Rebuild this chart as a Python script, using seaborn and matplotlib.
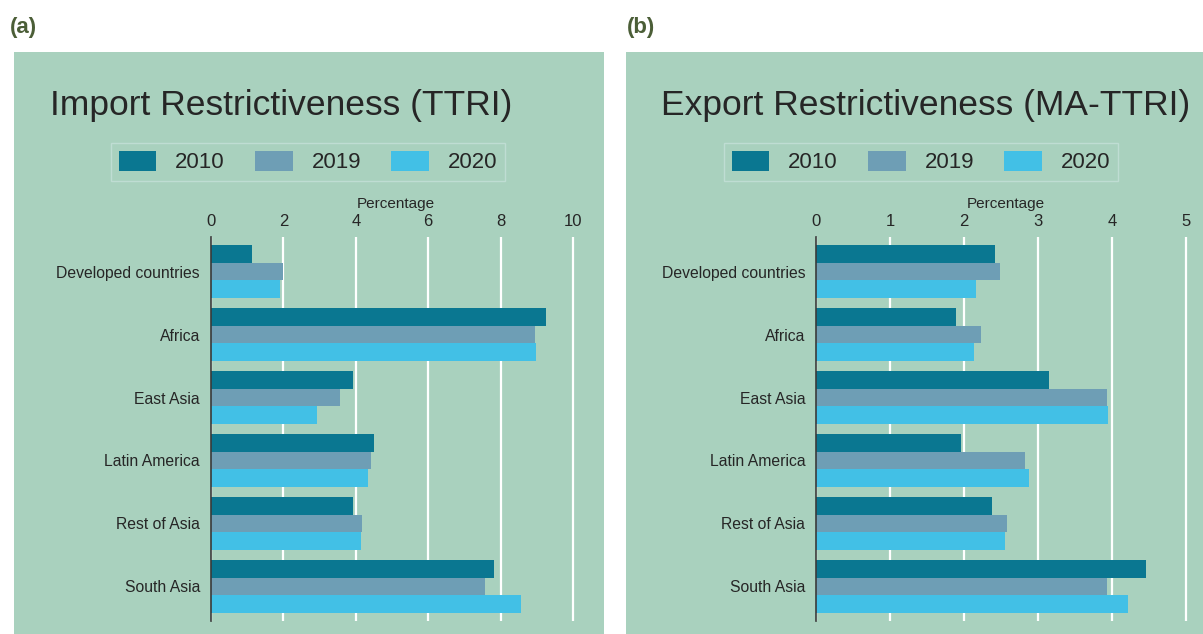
import matplotlib
matplotlib.use("Agg")
import matplotlib.pyplot as plt
import seaborn as sns
import pandas as pd
from matplotlib.patches import Rectangle

regions = ["Developed countries", "Africa", "East Asia", "Latin America", "Rest of Asia", "South Asia"]
years = ["2010", "2019", "2020"]
import_2010 = [1.14, 9.24, 3.91, 4.49, 3.93, 7.83]
import_2019 = [1.98, 8.94, 3.55, 4.41, 4.18, 7.56]
import_2020 = [1.90, 8.99, 2.94, 4.35, 4.13, 8.55]
export_2010 = [2.42, 1.89, 3.15, 1.96, 2.38, 4.46]
export_2019 = [2.49, 2.23, 3.93, 2.82, 2.58, 3.93]
export_2020 = [2.16, 2.13, 3.95, 2.88, 2.55, 4.21]
panel_titles = ["Import Restrictiveness (TTRI)", "Export Restrictiveness (MA-TTRI)"]
panel_letters = ["(a)", "(b)"]
xlabel = "Percentage"
import_ticks = [0, 2, 4, 6, 8, 10]
export_ticks = [0, 1, 2, 3, 4, 5]

colors = ["#0A7791", "#6E9EB5", "#42C0E6"]
bg = "#A9D1BE"
txt = "#262626"

def long_df(v10, v19, v20):
    rows = []
    for yr, vals in zip(years, [v10, v19, v20]):
        for r, v in zip(regions, vals):
            rows.append({"Region": r, "Year": yr, "Value": v})
    return pd.DataFrame(rows)

sns.set_theme(style="white")
plt.rcParams["font.family"] = ["Liberation Sans", "DejaVu Sans"]

W, H = 1203, 634
fig = plt.figure(figsize=(W / 100, H / 100), dpi=100, facecolor="white")

# green panels
fig.patches.append(Rectangle((14 / W, 0), (604 - 14) / W, (H - 52) / H,
                             transform=fig.transFigure, facecolor=bg, edgecolor="none", zorder=-10))
fig.patches.append(Rectangle((626 / W, 0), (W - 626) / W, (H - 52) / H,
                             transform=fig.transFigure, facecolor=bg, edgecolor="none", zorder=-10))

specs = [
    dict(df=long_df(import_2010, import_2019, import_2020), left=211, right=581, xmax=10.22,
         ticks=import_ticks, title_x=50, letter_x=10, leg_x=308),
    dict(df=long_df(export_2010, export_2019, export_2020), left=816.3, right=1195, xmax=5.12,
         ticks=export_ticks, title_x=661, letter_x=627, leg_x=921),
]

ax_top, ax_bot = 237, 621
for i, s in enumerate(specs):
    ax = fig.add_axes([s["left"] / W, (H - ax_bot) / H, (s["right"] - s["left"]) / W, (ax_bot - ax_top) / H])
    ax.set_facecolor("none")
    sns.barplot(data=s["df"], y="Region", x="Value", hue="Year", palette=colors, orient="h",
                width=0.84, linewidth=0, saturation=1, ax=ax, zorder=3)
    ax.set_xlim(0, s["xmax"])
    ax.set_ylim(5.55, -0.55)
    ax.set_xticks(s["ticks"])
    ax.xaxis.tick_top()
    ax.xaxis.set_label_position("top")
    ax.set_xlabel(xlabel, fontsize=11, color=txt, labelpad=4)
    ax.set_ylabel("")
    ax.grid(axis="x", color="white", linewidth=1.6, zorder=1)
    ax.set_axisbelow(True)
    ax.tick_params(axis="x", length=0, pad=6, labelsize=12, labelcolor=txt)
    ax.tick_params(axis="y", length=0, pad=8, labelsize=11.3, labelcolor=txt)
    for sp in ["top", "right", "bottom"]:
        ax.spines[sp].set_visible(False)
    ax.spines["left"].set_color("#3a3a3a")
    ax.spines["left"].set_linewidth(1.2)
    ax.spines["left"].set_zorder(5)

    handles, labels = ax.get_legend_handles_labels()
    if ax.get_legend() is not None:
        ax.get_legend().remove()
    leg = ax.legend(handles, labels, loc="center", ncol=3,
                    bbox_to_anchor=(s["leg_x"] / W, 1 - 162 / H), bbox_transform=fig.transFigure,
                    fontsize=16, frameon=True, fancybox=False, facecolor=bg,
                    edgecolor="#BFDDD3", framealpha=1,
                    handlelength=1.7, handleheight=1.05, handletextpad=0.85,
                    columnspacing=1.35, borderpad=0.35)
    for t in leg.get_texts():
        t.set_color(txt)
    leg.get_frame().set_linewidth(1.0)

    fig.text(s["title_x"] / W, 1 - 115 / H, panel_titles[i], fontsize=25.5, color=txt,
             ha="left", va="baseline")
    fig.text(s["letter_x"] / W, 1 - 28 / H, panel_letters[i], fontsize=16, fontweight="bold",
             color="#4B5E37", ha="left", va="center")

fig.savefig("out.png", dpi=100, facecolor="white")
